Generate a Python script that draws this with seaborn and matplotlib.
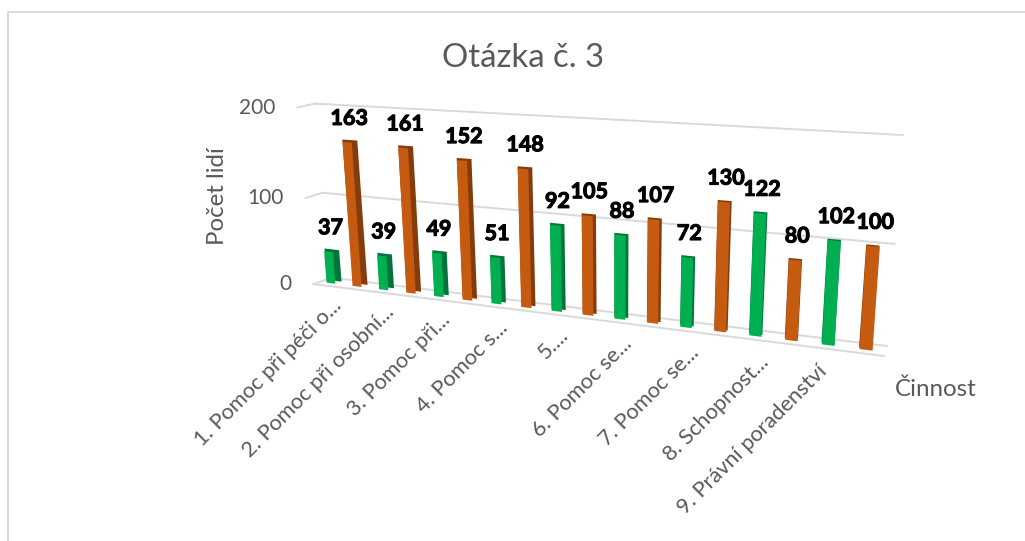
import numpy as np
import pandas as pd
import matplotlib
matplotlib.use("Agg")
import matplotlib.pyplot as plt
import matplotlib.patheffects as pe
from matplotlib.transforms import Transform
import seaborn as sns

categories = ["1", "2", "3", "4", "5", "6", "7", "8", "9"]
tick_labels = ["1. Pomoc při péči o...", "2. Pomoc při osobní...", "3. Pomoc při...",
               "4. Pomoc s...", "5....", "6. Pomoc se...", "7. Pomoc se...",
               "8. Schopnost...", "9. Právní poradenství"]
green_values = [37, 39, 49, 51, 92, 88, 72, 122, 102]
orange_values = [163, 161, 152, 148, 105, 107, 130, 80, 100]
y_ticks = [0, 100, 200]

GREY = "#595959"
GRID = "#D9D9D9"
sns.set_theme(style="white")
plt.rcParams["font.family"] = ["Lato", "DejaVu Sans"]


def fit(pairs):
    A, b = [], []
    for (u, v), (x, y) in pairs:
        A.append([u, v, 1, 0, 0, 0, -u * x, -v * x]); b.append(x)
        A.append([0, 0, 0, u, v, 1, -u * y, -v * y]); b.append(y)
    h = np.linalg.lstsq(np.array(A, float), np.array(b, float), rcond=None)[0]
    return np.append(h, 1).reshape(3, 3)


class Plane(Transform):
    input_dims = output_dims = 2
    is_affine = False
    has_inverse = False

    def __init__(self, pairs):
        super().__init__()
        self.H = fit(pairs)

    def transform_non_affine(self, values):
        v = np.asarray(values, float)
        p = np.c_[v, np.ones(len(v))] @ self.H.T
        return p[:, :2] / p[:, 2:]


# perspective calibration: chart units -> picture pixels
front = Plane([((-.25, 0), (331, 283)), ((8.25, 0), (865.5, 350.7)), ((.25, 163), (347, 143)),
               ((8.25, 100), (872.7, 246.7)), ((.25, 0), (357, 286.5)), ((3.75, 92), (555.3, 225)),
               ((3.75, 0), (556.7, 311)), ((7.25, 80), (795.3, 259)), ((7.25, 0), (791.5, 340.7)),
               ((6.25, 130), (724.5, 201.7)), ((6.25, 0), (720.7, 331.7))])
back = Plane([((-.25, 0), (337, 281)), ((8.25, 0), (865, 349)), ((.25, 163), (352.5, 141)),
              ((8.25, 100), (873, 245)), ((3.75, 92), (559.5, 223)), ((3.75, 0), (561, 309)),
              ((6.25, 130), (725.5, 200)), ((6.25, 0), (721.7, 330))])
wall = Plane([((0, 0), (331, 278)), ((1, 0), (887, 346)), ((0, 100), (323, 192)),
              ((1, 100), (895, 244)), ((0, 200), (314, 104)), ((1, 200), (903, 135))])
side = Plane([((0, 0), (313, 284)), ((1, 0), (331, 278)), ((0, 100), (305.5, 199)),
              ((1, 100), (323, 192)), ((0, 200), (298, 107)), ((1, 200), (314, 104))])

df = pd.DataFrame({
    "Činnost": categories * 2,
    "Řada": ["A"] * len(categories) + ["B"] * len(categories),
    "Počet lidí": green_values + orange_values,
})

fig = plt.figure(figsize=(10.25, 5.41), dpi=100)
ax = fig.add_axes([0, 0, 1, 1])

sns.barplot(df, x="Činnost", y="Počet lidí", hue="Řada", palette=["#00743A", "#843C0C"],
            width=1, gap=0.66, saturation=1, legend=False, ax=ax, zorder=2)
n_back = len(ax.patches)
sns.barplot(df, x="Činnost", y="Počet lidí", hue="Řada", palette=["#00B050", "#C55A11"],
            width=1, gap=0.66, saturation=1, legend=False, ax=ax, zorder=3)
ax.set_xlim(0, 1025)
ax.set_ylim(541, 0)
ax.axis("off")

patches = list(ax.patches)
for p in patches[:n_back]:
    # the dark block behind each bar reaches back to the front face's left edge
    x, w = p.get_x(), p.get_width()
    dx = max(0.0, 0.11 * (1 - (x + w / 2) / 8.25))
    p.set_x(x - dx)
    p.set_width(w + dx)
    p.set_transform(back + ax.transData)
    p.set_linewidth(0)
for p in patches[n_back:]:
    p.set_transform(front + ax.transData)
    p.set_linewidth(0)
    u, val = p.get_x() + p.get_width() / 2, p.get_height()
    ax.annotate(f"{val:.0f}", xy=(u, val), xycoords=front + ax.transData, xytext=(2, 24),
                textcoords="offset pixels", ha="center", va="center", fontsize=15.5,
                fontweight="bold", color="black", zorder=5,
                path_effects=[pe.withStroke(linewidth=0.8, foreground="black")])

# gridlines on the back wall, side wall and front floor edge
for v in y_ticks:
    ax.plot([0, 1], [v, v], color=GRID, lw=1.4, transform=wall + ax.transData, zorder=1)
    ax.plot([0, 1], [v, v], color=GRID, lw=1.4, transform=side + ax.transData, zorder=1)
    ax.annotate(str(v), xy=(0, v), xycoords=side + ax.transData, xytext=(-22, 0),
                textcoords="offset pixels", ha="right", va="center", fontsize=15, color=GREY)
ax.plot([313, 884], [284, 356], color=GRID, lw=1.4, zorder=1)

# category labels
for i, lab in enumerate(tick_labels):
    shift = -22 if i == len(tick_labels) - 1 else -7
    ax.annotate(lab, xy=(i, -22), xycoords=front + ax.transData, xytext=(shift, 1),
                textcoords="offset pixels", ha="right", va="center", rotation=45,
                rotation_mode="anchor", fontsize=15.7, color=GREY)

ax.text(523, 58, "Otázka č. 3", ha="center", va="center", fontsize=23.7, color=GREY)
ax.text(217, 196, "Počet lidí", ha="center", va="center", rotation=90, fontsize=17.3, color=GREY)
ax.text(936, 389, "Činnost", ha="center", va="center", fontsize=17.4, color=GREY)

# outer frame (open on the right and at the bottom)
ax.plot([8, 8, 1025], [541, 12, 12], color=GRID, lw=1.4, zorder=0)

fig.savefig("out.png", dpi=100)
